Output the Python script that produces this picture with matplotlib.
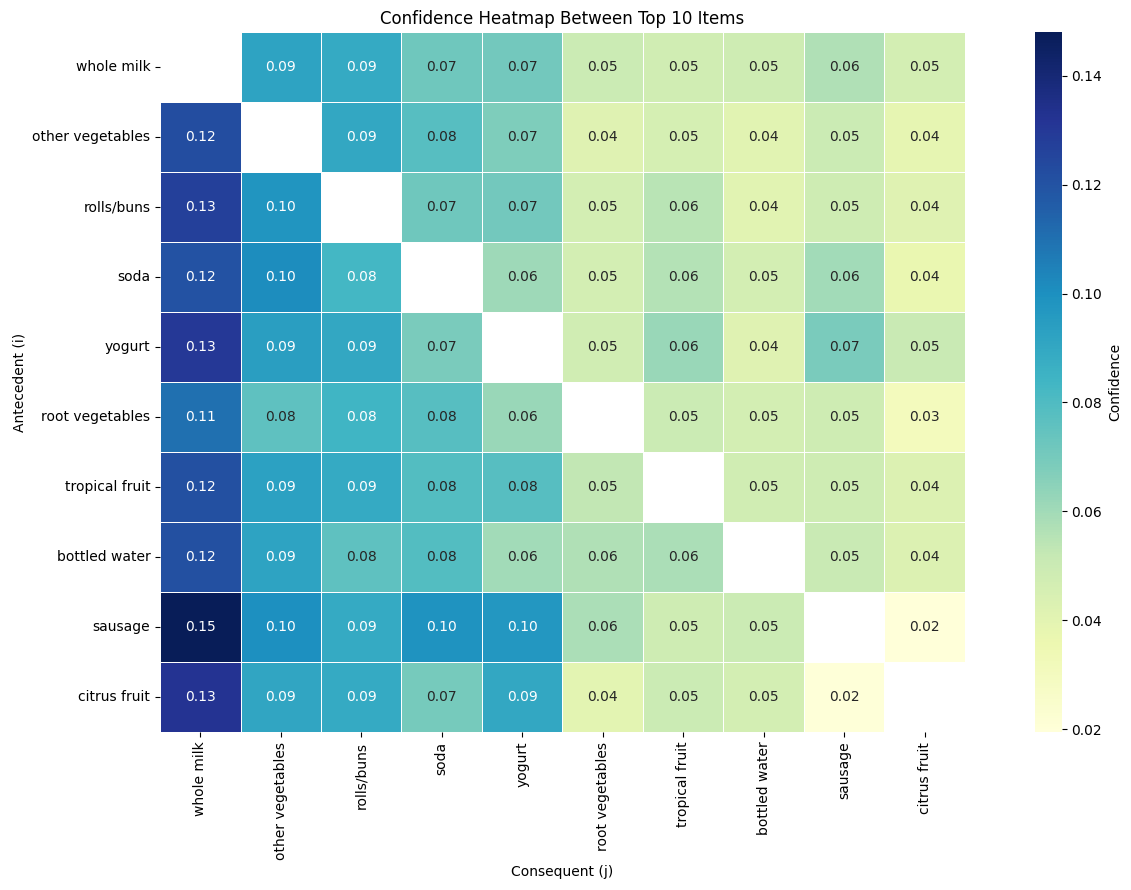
import numpy as np
import pandas as pd
import matplotlib
matplotlib.use("Agg")
import matplotlib.pyplot as plt
import seaborn as sns

items = ["whole milk", "other vegetables", "rolls/buns", "soda", "yogurt",
         "root vegetables", "tropical fruit", "bottled water", "sausage", "citrus fruit"]

# confidence(antecedent -> consequent), row = antecedent
whole_milk       = [np.nan, 0.092, 0.089, 0.072, 0.071, 0.050, 0.048, 0.049, 0.057, 0.047]
other_vegetables = [0.122, np.nan, 0.090, 0.078, 0.068, 0.042, 0.046, 0.041, 0.050, 0.039]
rolls_buns       = [0.127, 0.098, np.nan, 0.072, 0.071, 0.047, 0.055, 0.041, 0.049, 0.042]
soda             = [0.120, 0.101, 0.083, np.nan, 0.061, 0.047, 0.056, 0.047, 0.060, 0.037]
yogurt           = [0.130, 0.094, 0.090, 0.069, np.nan, 0.048, 0.062, 0.042, 0.069, 0.051]
root_vegetables  = [0.110, 0.076, 0.084, 0.078, 0.062, np.nan, 0.050, 0.047, 0.049, 0.031]
tropical_fruit   = [0.121, 0.093, 0.089, 0.079, 0.078, 0.053, np.nan, 0.048, 0.049, 0.043]
bottled_water    = [0.121, 0.092, 0.076, 0.079, 0.060, 0.057, 0.058, np.nan, 0.051, 0.043]
sausage          = [0.148, 0.100, 0.089, 0.099, 0.097, 0.058, 0.049, 0.050, np.nan, 0.0195]
citrus_fruit     = [0.132, 0.091, 0.089, 0.070, 0.090, 0.040, 0.050, 0.047, 0.0205, np.nan]

conf = pd.DataFrame([whole_milk, other_vegetables, rolls_buns, soda, yogurt,
                     root_vegetables, tropical_fruit, bottled_water, sausage, citrus_fruit],
                    index=items, columns=items)

fig = plt.figure(figsize=(11.31, 8.9), dpi=100)
ax = fig.add_axes([0.1415, 0.1775, 0.7115, 0.7865])
cax = fig.add_axes([0.915, 0.1775, 0.0239, 0.7865])

sns.heatmap(conf, annot=True, fmt=".2f", cmap="YlGnBu", linewidths=0.5, linecolor="white",
            ax=ax, cbar_ax=cax, cbar_kws={"label": "Confidence"})

# annotation colour: white on the darker cells
vals = conf.values.flatten()
vals = vals[~np.isnan(vals)]
for txt, v in zip(ax.texts, vals):
    txt.set_color("white" if v >= 0.082 else "#262626")

ax.set_title("Confidence Heatmap Between Top 10 Items", fontsize=12)
ax.set_xlabel("Consequent (j)")
ax.set_ylabel("Antecedent (i)")
plt.setp(ax.get_xticklabels(), rotation=90)
plt.setp(ax.get_yticklabels(), rotation=0)

fig.savefig("out.png", dpi=100)
